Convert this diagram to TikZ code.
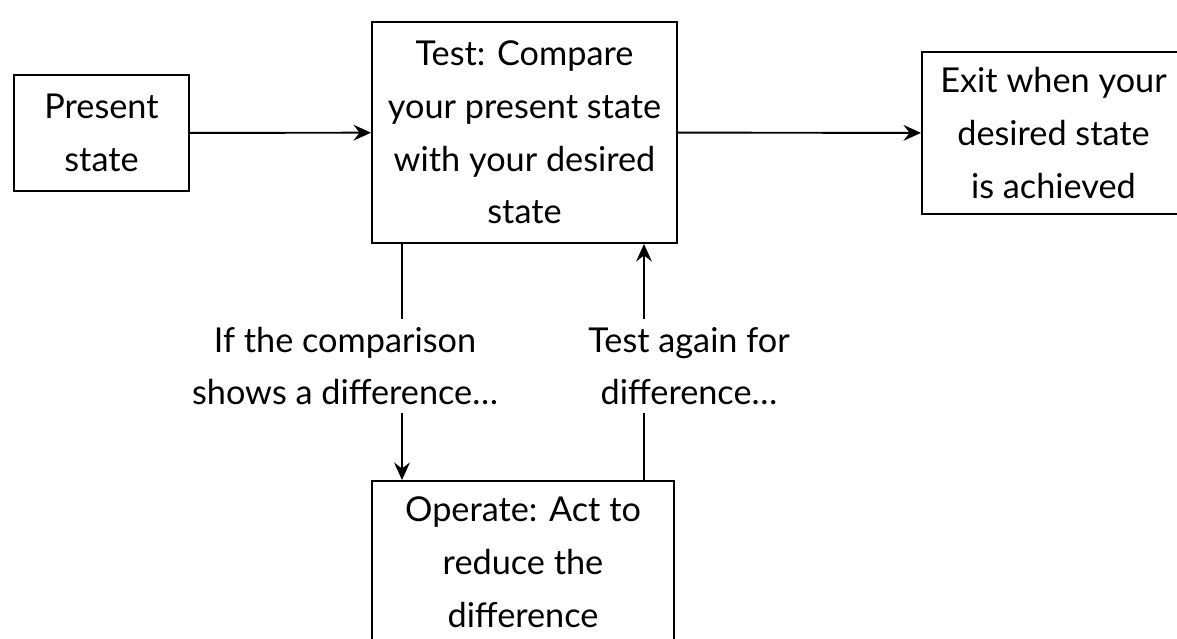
\documentclass[tikz,border=0pt]{standalone}
\usepackage{fontspec}
\setmainfont{Lato}
\usetikzlibrary{arrows.meta}
\begin{document}
\begin{tikzpicture}[x=0.02cm, y=-0.02cm, line width=1.1pt,
	every node/.style={font=\fontsize{19.5}{30}\selectfont, align=center, inner sep=0pt},
	box/.style={draw, minimum width=#1},
	arr/.style={-{Stealth[length=10pt,width=9pt,inset=3.5pt]}}]
		\useasboundingbox (0,0) rectangle (1177,639);
		\node[box=175*0.02cm, minimum height=116*0.02cm] (present) at (101.5,133) {Present\\state};
		\node[box=305*0.02cm, minimum height=221*0.02cm] (test) at (524.5,132.5) {Test: Compare\\your present state\\with your desired\\state};
		\node[box=263*0.02cm, minimum height=162*0.02cm] (exit) at (1053.5,133) {Exit when your\\desired state\\is achieved};
		\node[box=302*0.02cm, minimum height=162*0.02cm] (operate) at (523,562) {Operate: Act to\\reduce the\\difference};
		\coordinate (down) at (402,0);
		\coordinate (up) at (644,0);
		\draw[arr] (present) -- (test);
		\draw[arr] (test) -- (exit);
		\draw[arr] (test.south -| down) -- (operate.north -| down);
		\draw[arr] (operate.north -| up) -- (test.south -| up);
		\node[fill=white, minimum height=94*0.02cm] (ifdiff) at (345,366) {If the comparison\\shows a difference\dots};
		\node[fill=white, minimum height=94*0.02cm] (again) at (689,366) {Test again for\\difference\dots};
\end{tikzpicture}
\end{document}
